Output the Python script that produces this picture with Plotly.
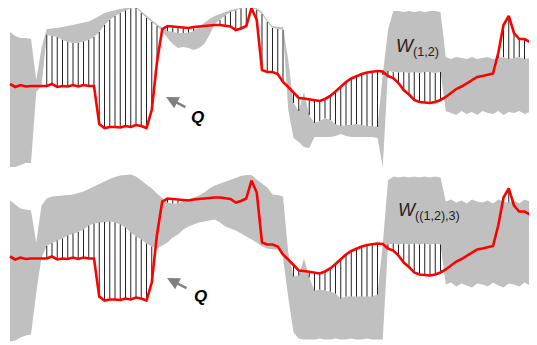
import plotly.graph_objects as go

# sample index (uniform sampling along the horizontal axis)
sample = list(range(101))

# Q signal (same in both panels); values measured downward from panel top
q_values = [84, 87, 85, 86.5, 86, 86, 86, 86, 84, 87,
            86, 86.5, 85, 86.5, 85, 86, 86, 124, 128, 127,
            127, 127.5, 126, 127, 125, 126, 128, 110, 62, 29,
            26, 26.5, 27.5, 28, 28, 27, 26.5, 26, 25, 25,
            25, 25.5, 26.5, 30, 28.5, 26, 8, 20, 70, 72,
            72, 74, 82, 87, 93, 98, 98.5, 99.5, 100.5, 101,
            99, 96, 91.5, 86.5, 82, 78.5, 76, 74, 72.5, 71.5,
            71, 71.5, 76, 78, 83, 90, 94.5, 100, 102, 102.5,
            103, 102, 100, 97, 93, 89, 86.5, 83.5, 80, 77,
            76, 75, 73.5, 53, 25, 16, 33, 39, 39, 42]

# W(1,2) envelope (top panel)
w12_upper = [32, 36, 38, 38, 39, 80, 48, 29, 28.5, 28,
             27, 26, 25, 24, 23, 21.5, 19, 16, 13, 11.5,
             10, 9, 8, 7, 6.5, 11, 16, 20, 24, 28,
             31, 32, 33, 33, 32.5, 31, 27, 23, 19, 16,
             14, 12, 10, 9, 7.5, 6.5, 6, 8, 12, 20,
             26, 27, 27, 60, 103, 111, 92, 115, 123, 121,
             118, 120, 124, 126, 125, 125, 124, 125, 126, 126,
             127, 75, 30, 11, 11, 12, 11, 12, 11, 12,
             11, 11, 12, 57, 59, 57, 58, 59, 57, 59,
             58, 57, 59, 58, 57, 59, 58, 57, 59, 58,
             59]
w12_lower = [167, 167, 165, 163, 163, 92, 86, 35, 36, 37,
             40, 42, 43, 43, 41.5, 40, 37, 32, 25, 20,
             16, 13, 10.5, 8.5, 7.5, 13, 18, 22, 26, 31,
             38, 44, 48, 47, 48, 50, 48, 44, 35, 24,
             20, 15.5, 12, 10.5, 8.5, 7.5, 7, 10, 14, 22,
             28, 29, 30, 110, 138, 142, 147, 148, 137, 137,
             137, 137, 136, 134, 136, 137, 137, 137, 137, 137,
             138, 167, 71, 72, 72.5, 72, 73, 72, 73, 72,
             72, 73, 72, 111, 113, 115, 111, 114, 112, 115,
             111, 113, 114, 111, 115, 112, 113, 111, 114, 112,
             113]

# W((1,2),3) envelope (bottom panel)
w123_upper = [28, 32, 36, 37, 38, 70, 33, 26, 24, 23.5,
              23, 23, 22, 20.5, 19, 16.5, 14, 11, 8.5, 6.5,
              4.5, 3, 2.5, 2, 4, 8, 12, 16, 21, 26,
              30, 31, 31, 29, 27, 25.5, 23, 20, 16, 13,
              11, 9, 7, 5, 3.5, 2.5, 2.5, 7, 11, 15,
              22, 22.5, 24, 80, 104, 103, 86, 105, 118, 117,
              118, 119, 121, 126, 124, 124, 124, 124, 124, 124,
              122, 72, 8, 4, 5, 4, 5, 4, 5, 4,
              5, 4, 5, 29, 27, 30, 28, 31, 27, 29,
              30, 28, 31, 27, 29, 30, 28, 31, 27, 29,
              30]
w123_lower = [169, 168, 165, 163, 162, 120, 85, 73.5, 70.5, 68,
              66, 63, 61, 59.5, 57, 53, 51, 50, 49.5, 49,
              50, 52, 55, 60, 64, 67, 71, 74, 76, 73,
              70, 65, 62, 57, 54, 52, 50, 49, 48, 47,
              50, 54, 56, 58, 61, 64, 67, 70, 74, 76,
              77, 77, 85, 125, 160, 166, 167, 167, 167, 166,
              167, 167, 166, 167, 167, 166, 167, 167, 166, 167,
              167, 167, 72, 71, 72, 71, 72, 71, 72, 71,
              72, 71, 72, 112, 110, 114, 111, 113, 115, 111,
              112, 114, 110, 113, 115, 111, 112, 114, 110, 113,
              112]

BAND = "#c0c0c0"
RED = "#ff0000"
HATCH = "#222222"

fig = go.Figure()


def add_panel(upper, lower, yaxis):
    xs = sample + sample[::-1]
    ys = upper + lower[::-1]
    fig.add_trace(go.Scatter(x=xs, y=ys, fill="toself", fillcolor=BAND,
                             line=dict(width=0), mode="lines", yaxis=yaxis,
                             hoverinfo="skip", showlegend=False))
    hx, hy = [], []
    for i, qv in enumerate(q_values):
        if qv < upper[i]:
            hx += [sample[i], sample[i], None]
            hy += [qv, upper[i], None]
        elif qv > lower[i]:
            hx += [sample[i], sample[i], None]
            hy += [lower[i], qv, None]
    fig.add_trace(go.Scatter(x=hx, y=hy, mode="lines",
                             line=dict(color=HATCH, width=1), yaxis=yaxis,
                             hoverinfo="skip", showlegend=False))
    fig.add_trace(go.Scatter(x=sample[:len(q_values)], y=q_values, mode="lines",
                             line=dict(color=RED, width=2.6), yaxis=yaxis,
                             hoverinfo="skip", showlegend=False))


add_panel(w12_upper, w12_lower, "y")
add_panel(w123_upper, w123_lower, "y2")

W, H = 537, 345
OFF = 8  # page body margin offset compensation


def px(x):
    return (x - OFF) / W


def py(y):
    return 1 - (y - OFF) / H


split = 1 - (172.5 - OFF) / H

font = "Liberation Sans, Arial, sans-serif"
common = dict(xref="paper", yref="paper")
annotations = [
    dict(text="<i>W</i><sub>(1,2)</sub>", x=px(394), y=py(48), xanchor="left",
         yanchor="middle", showarrow=False, font=dict(size=18, color="#222", family=font), **common),
    dict(text="<i>W</i><sub>((1,2),3)</sub>", x=px(396), y=py(211), xanchor="left",
         yanchor="middle", showarrow=False, font=dict(size=18, color="#222", family=font), **common),
    dict(text="<b><i>Q</i></b>", x=px(197), y=py(117), xanchor="center",
         yanchor="middle", showarrow=False, font=dict(size=17, color="#000", family=font), **common),
    dict(text="<b><i>Q</i></b>", x=px(200), y=py(296), xanchor="center",
         yanchor="middle", showarrow=False, font=dict(size=17, color="#000", family=font), **common),
    dict(text="", x=px(166), y=py(97), showarrow=True, ax=21, ay=11,
         arrowhead=2, arrowsize=1, arrowwidth=2.5, arrowcolor="#808080", standoff=0, **common),
    dict(text="", x=px(167), y=py(278), showarrow=True, ax=21, ay=11,
         arrowhead=2, arrowsize=1, arrowwidth=2.5, arrowcolor="#808080", standoff=0, **common),
]

fig.update_layout(
    width=W, height=H,
    margin=dict(l=0, r=0, t=0, b=0, autoexpand=False),
    paper_bgcolor="white", plot_bgcolor="white",
    xaxis=dict(range=[(OFF - 10) / 5.25, (W + OFF - 10) / 5.25], visible=False, fixedrange=True),
    yaxis=dict(domain=[split, 1], range=[172.5, OFF], visible=False),
    yaxis2=dict(domain=[0, split], range=[H + OFF - 172.5, 0], visible=False),
    annotations=annotations,
    showlegend=False,
)

fig.write_html("out.html")
